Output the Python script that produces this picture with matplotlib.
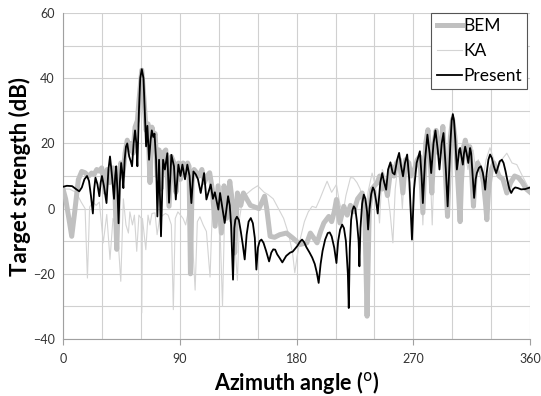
import matplotlib
matplotlib.use("Agg")
import matplotlib.pyplot as plt

# ---------------- data ----------------
present_deg = [0, 3, 7, 10, 12.5, 14.5, 16.5, 18.5, 20, 21.5, 23, 24, 25, 26.5, 28, 29, 30, 31.5, 33.5,
               35, 36.2, 37.5, 39.3, 40.2, 41, 42, 42.8, 43.8, 44.8, 45.7, 46.5, 47.5, 48.5, 49.5, 51,
               52.2, 53.2, 54.4, 55.5, 56.5, 57.3, 58.5, 59.5, 60.7, 62, 63, 64, 65, 66.3, 67.5, 68.4,
               69.5, 70.5, 71.7, 72.7, 74, 75.5, 77.1, 78.5, 80.4, 81.7, 83.5, 85.5, 86.9, 88.9, 90.5,
               92, 94, 95.8, 97.5, 98.9, 100.5, 102.3, 104, 106.1, 108.7, 110.5, 113.8, 115.5, 117,
               119.7, 121, 122.5, 124.6, 127.2, 128.5, 129.5, 131, 132, 132.8, 134, 135.5, 137, 138.5,
               140, 141.5, 143, 144.7, 146.3, 147.8, 149, 150.2, 151.5, 152.9, 154.5, 156.5, 158.8,
               160.5, 162, 163.5, 165, 167, 169, 170.5, 172, 173.5, 175, 177, 179, 180.5, 182.5, 184.2,
               185.8, 187.5, 190, 192, 194, 195.5, 197, 198.5, 200, 202, 204, 205.5, 207, 209, 210.7,
               212, 213.5, 215.1, 216.5, 218, 219.5, 220.2, 221, 222, 223, 224.1, 225.2, 226.5, 227.8,
               228.4, 229.2, 230.5, 231.8, 233, 234.3, 235.1, 236.2, 237.5, 238.8, 240, 241.2, 242.5,
               244.5, 246, 247.5, 249, 250.5, 252.3, 254, 255.5, 257.5, 259, 260.5, 262, 263.5, 265.2,
               267, 268.9, 270.5, 272.5, 275, 276.3, 277.3, 279, 280.8, 282.5, 283.7, 285.5, 287,
               288.8, 290.1, 291.8, 293.2, 295, 296.4, 298.5, 299.5, 300.4, 301.3, 302.3, 303.5, 304.5,
               305.3, 306, 307, 308.1, 309, 309.9, 311, 312.3, 313.2, 313.7, 314.5, 315.5, 316.8, 318,
               318.9, 320.5, 322, 323.5, 324.5, 325.3, 326.5, 327.8, 329.1, 330.5, 332, 333.8, 335,
               336.5, 338.2, 339.5, 341, 342.5, 344, 345.4, 347, 348.5, 350.5, 353, 356.2, 360]
present_db = [6.7, 7.0, 6.9, 6.0, 5.3, 6.5, 9.0, 10.0, 8.5, 4.0, -1.5, 6.0, 9.5, 7.5, 3.8, 8.0, 10.0,
              7.0, 1.7, 12.0, 16.0, 11.0, 3.0, 10.0, 13.0, 5.0, -4.5, 8.0, 14.0, 11.0, 6.3, 15.0, 19.0,
              20.0, 16.0, 14.5, 13.0, 20.0, 24.0, 20.0, 13.0, 30.0, 40.0, 42.8, 40.0, 30.0, 19.1, 25.4,
              15.0, 21.0, 24.0, 22.0, 23.0, 15.0, -2.4, 15.0, -8.5, 15.0, 12.0, 17.0, 1.8, 16.5, 13.0,
              2.8, 13.5, 10.0, 13.5, 9.0, 13.5, 10.0, 1.7, 11.4, 10.5, 9.0, 4.8, 10.9, 2.8, 7.4, 3.0,
              5.0, -0.3, 4.8, 1.0, -4.4, 3.8, 1.0, -5.0, -21.8, -6.0, -3.4, -2.5, -3.5, -7.0, -11.0,
              -15.6, -8.0, -4.0, -2.9, -4.5, -9.0, -18.7, -12.0, -10.0, -9.5, -10.5, -13.0, -16.2,
              -13.5, -12.5, -12.6, -14.0, -15.2, -16.5, -15.5, -14.5, -14.0, -13.5, -13.2, -12.2,
              -11.5, -10.2, -9.5, -10.3, -11.8, -13.5, -15.0, -17.0, -19.5, -22.8, -17.0, -13.0,
              -9.5, -7.5, -7.3, -8.5, -12.0, -16.7, -10.0, -6.5, -4.9, -6.0, -10.0, -20.0, -30.5,
              -12.0, -3.5, -0.5, 0.7, 0.0, -4.0, -10.0, -17.7, -6.0, 1.5, 4.3, 3.0, -1.0, -6.4, 0.0,
              4.5, 6.5, 5.5, 2.5, -1.5, 8.0, 10.9, 8.0, 5.8, 12.0, 14.2, 11.0, 10.5, 15.0, 17.1, 13.0,
              9.9, 14.0, 16.6, 8.0, -9.5, 6.0, 14.0, 17.6, 10.0, 1.7, 15.0, 22.7, 17.0, 10.9, 20.0,
              24.0, 18.0, 12.0, 20.0, 23.2, 12.0, 0.7, 20.0, 27.0, 29.0, 27.0, 21.0, 12.0, 15.0, 18.0,
              18.6, 16.0, 13.5, 17.0, 19.0, 17.0, 14.0, 17.0, 18.6, 17.0, 11.0, 3.3, 9.0, 10.9, 12.5,
              13.0, 11.0, 8.5, 5.8, 11.0, 15.0, 16.6, 15.5, 13.0, 10.9, 12.5, 14.5, 15.0, 14.0, 11.5,
              8.5, 6.0, 4.8, 6.0, 6.5, 6.3, 5.9, 6.0, 6.5]

bem_deg = [0, 2, 4.5, 6.7, 9, 11.8, 14.4, 17, 19.5, 22, 24, 26, 28, 29.8, 31, 32.4, 34, 36, 38.5, 40,
           41.4, 43, 44.5, 46, 47.8, 49.5, 51, 52.5, 54, 55.5, 57.3, 58.5, 60.7, 62.5, 64, 65.5, 67,
           68.5, 70, 71, 72.7, 74, 75.5, 77, 79.2, 81.7, 83.5, 85.5, 87, 89, 90.5, 92.5, 94.5, 96,
           97.1, 98.2, 99.5, 101, 103, 105, 107, 109, 111, 113, 115, 117.2, 119.5, 122, 124.1, 126,
           128.5, 130.5, 132.3, 134.4, 137, 139, 141.5, 144.4, 147.8, 151, 155.3, 157, 159.6, 163,
           167, 172.2, 177, 182.7, 187.9, 190.6, 195.8, 198.5, 201, 204.8, 207, 209, 210.7, 213.3,
           216.4, 219, 221.5, 224, 227, 230.5, 232.5, 234.3, 236, 238, 242, 244, 246, 248, 250,
           252.8, 255, 257, 259.3, 261.9, 264, 266.5, 268, 270.8, 273, 275, 277.3, 279.5, 281.2,
           283, 284.2, 286, 287.5, 289.5, 291, 292.7, 294.5, 296.3, 298.5, 300.2, 302, 303.5, 305,
           306, 307, 308.5, 310, 312, 313.5, 315, 316.3, 317.5, 319.5, 322, 324, 325.5, 326.6, 328,
           330, 332, 334, 336, 339, 342, 345, 348, 351, 354, 357, 360]
bem_db = [6.0, 3.0, -3.0, -8.5, -1.0, 8.9, 11.4, 11.0, 9.9, 10.9, 10.5, 12.0, 11.5, 12.5, 9.0, 5.0,
          12.0, 8.0, 12.5, 5.0, -12.5, 8.0, 14.0, 10.0, 17.0, 21.0, 18.0, 20.0, 17.0, 25.0, 27.0,
          33.0, 42.5, 33.0, 24.0, 26.0, 8.0, 25.0, 22.0, 23.0, 10.0, 18.0, 6.0, 17.0, 18.0, 0.7,
          16.0, 14.0, 5.0, 14.0, 9.0, 14.0, 11.0, 14.0, 13.0, -20.0, 8.0, 12.0, 11.0, 10.0, 12.0,
          8.0, 10.0, 11.0, 6.0, -5.4, 7.0, -7.5, 7.0, -3.0, 8.4, 2.0, -13.6, 4.8, 1.0, 4.8, 3.0,
          1.0, 0.5, 0.0, 3.8, 0.0, -8.5, -8.8, -8.0, -7.5, -9.0, -11.0, -10.5, -7.5, -10.5, -7.0,
          -4.4, -2.4, -4.0, -1.0, 2.8, -4.4, 0.7, -2.0, 1.0, -1.0, 3.0, 4.8, 0.0, -33.0, 0.0, 6.0,
          7.9, 10.0, 6.0, 8.0, 4.0, 13.0, 10.0, 14.0, 15.0, 4.8, 15.0, 14.0, 10.0, 12.0, 15.0, 16.0,
          -1.3, 20.0, 24.2, 15.0, 4.8, 20.0, 24.0, 17.0, 18.0, 25.2, 12.0, -2.4, 22.0, 27.5, 22.0,
          14.0, 3.0, -4.0, 8.0, 18.0, 21.0, 17.0, 19.0, 10.0, 0.7, 10.0, 14.0, 12.0, 8.0, 2.0, -3.4,
          6.0, 12.0, 14.0, 12.0, 10.0, 9.0, 4.8, 8.0, 10.0, 9.5, 8.0, 6.0, 5.0]

ka_deg = [0, 5, 10, 14, 17, 18.8, 20.5, 23, 25.5, 28, 31, 33.7, 36.2, 38.5, 40.5, 42.5, 44.5, 46.5,
          48.5, 50.4, 51.5, 53.5, 55, 56.8, 58.5, 60.2, 60.7, 61.2, 63.8, 65.5, 67, 68.5, 70.9, 72.5,
          74.5, 77, 79, 81, 83.5, 85, 86.5, 88.5, 90.5, 92.5, 94.5, 96.5, 99, 101.8, 103.5, 105.5,
          108, 110.5, 113.3, 115, 117, 119, 121, 122.9, 124.5, 126.5, 128.5, 130, 132, 134.4, 136,
          138, 140, 143, 146, 150, 155, 158, 162, 166, 170, 174, 177, 178.6, 180.4, 183, 186, 189,
          192, 195, 198, 201, 203.5, 207, 210.7, 213, 215.5, 218, 221.5, 223.8, 226.5, 229, 231,
          233, 235, 238.2, 240, 242, 243.9, 246, 248, 250, 252, 254.2, 256, 258, 260, 261.5, 263,
          265, 266.5, 268.5, 270, 272, 274.5, 276, 277.3, 279, 281, 283, 284.5, 286, 288, 290, 292,
          294, 296, 298, 300, 302, 304, 306, 308, 310, 312, 314, 316, 318, 320, 322, 324, 326, 329,
          332, 335, 338, 342, 346, 349.7, 354, 358, 360]
ka_db = [6.0, 6.0, 5.0, 2.0, 0.0, -21.3, 0.5, 2.0, 1.0, 2.0, -10.5, -1.8, -15.6, -3.0, -5.0, -10.0,
         -22.3, 3.0, -5.0, -7.5, -1.0, -5.0, -2.0, -13.1, -2.0, -3.0, -32.0, -3.0, -12.6, -2.0, -5.0,
         -1.5, -1.3, -8.0, -3.0, -2.0, -1.5, -2.0, -5.0, -31.0, -3.0, -1.0, -2.0, -3.0, -5.0, -1.0,
         -4.0, -25.0, -4.0, -2.5, -5.0, -7.0, -21.0, -1.0, -3.0, -4.0, -6.0, -30.0, -2.0, 2.0, -4.0,
         0.0, -8.0, -22.0, -3.0, 2.0, 4.0, 5.0, 6.0, 7.0, 5.0, 4.3, 3.0, 0.0, -3.0, -8.0, -14.0,
         -19.7, -14.6, -9.0, -4.0, -1.0, 0.7, 0.3, 3.0, 6.0, 8.4, 5.0, 7.4, 2.0, -2.0, 4.0, 9.5, 9.4,
         8.0, 6.0, 2.0, -3.0, 5.0, 10.9, 8.0, 4.0, -4.4, 12.0, 10.0, 5.0, -1.0, -10.5, 6.0, 13.0,
         9.0, 0.0, 11.0, 16.0, 6.0, -5.0, 5.0, 12.0, 17.0, 8.0, -5.0, 12.0, 20.0, 12.0, -5.0, 13.0,
         22.0, 16.0, 22.0, 18.0, 8.0, 20.0, 26.0, 20.0, 12.0, 18.0, 20.0, 17.0, 12.0, 17.0, 18.0,
         12.0, 15.0, 12.0, 10.0, 15.0, 18.7, 15.0, 12.0, 15.0, 17.0, 14.0, 13.5, 10.0, 7.0, 6.0]

x_ticks = [0, 90, 180, 270, 360]
y_ticks = [-40, -20, 0, 20, 40, 60]
series_names = ["BEM", "KA", "Present"]

# ---------------- figure ----------------
plt.rcParams['font.family'] = ['Lato', 'DejaVu Sans']
fig = plt.figure(figsize=(5.41, 3.96), dpi=100)
ax = fig.add_axes([0.1165, 0.144, 0.8635, 0.823])

ax.plot(bem_deg, bem_db, color='#c0c0c0', lw=3.6, solid_joinstyle='round', label=series_names[0], zorder=3)
ax.plot(ka_deg, ka_db, color='#d4d4d4', lw=0.8, label=series_names[1], zorder=2)
ax.plot(present_deg, present_db, color='black', lw=1.3, solid_joinstyle='round',
        label=series_names[2], zorder=4)

ax.set_xlim(0, 360)
ax.set_ylim(-40, 60)
ax.set_xticks(x_ticks)
ax.set_yticks(y_ticks)
ax.set_xticks(range(0, 361, 30), minor=True)
ax.set_yticks(range(-40, 61, 10), minor=True)
ax.grid(True, which='both', color='#d0d0d0', lw=0.8, zorder=0)
ax.set_axisbelow(True)
ax.tick_params(which='both', length=0, labelsize=9, colors='#333333', pad=6)
ax.tick_params(axis='x', which='major', length=4, color='#a0a0a0', direction='out')
for s in ['top', 'right']:
    ax.spines[s].set_visible(False)
for s in ['left', 'bottom']:
    ax.spines[s].set_color('#a0a0a0')
    ax.spines[s].set_linewidth(0.8)

ax.set_xlabel('Azimuth angle ($^{\\mathrm{o}}$)', fontsize=15.5, fontweight='bold', labelpad=3)
ax.set_ylabel('Target strength (dB)', fontsize=16, fontweight='bold', labelpad=1)

leg = ax.legend(loc='upper right', bbox_to_anchor=(0.994, 1.0), fontsize=12.5, frameon=True,
                fancybox=False, borderpad=0.3, handlelength=1.45, handletextpad=0.1,
                labelspacing=0.5, borderaxespad=0.0)
leg.get_frame().set_edgecolor('#555555')
leg.get_frame().set_linewidth(0.8)
leg.get_frame().set_alpha(1.0)

fig.savefig('out.png', dpi=100)
